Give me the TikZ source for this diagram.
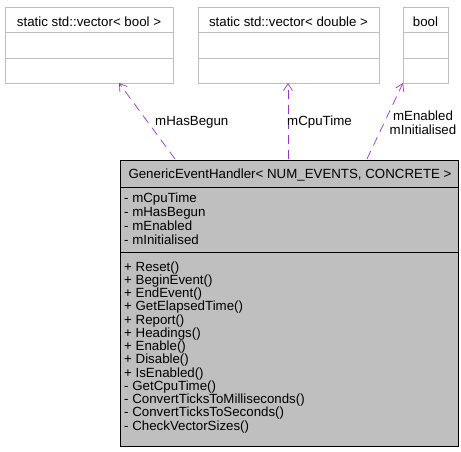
\documentclass[tikz,border=0pt]{standalone}
\usepackage{fontspec}
\setmainfont{Liberation Sans}
\usetikzlibrary{arrows.meta}
\definecolor{edgecol}{HTML}{9A32CD}
\definecolor{boxgray}{HTML}{BFBFBF}
\tikzset{
  topbox/.style={draw=boxgray, fill=white, line width=0.8pt, minimum height=76pt, inner sep=0pt, anchor=north west},
  mainbox/.style={draw=black, fill=boxgray, line width=0.9pt, inner sep=0pt, anchor=north west},
  txt/.style={font=\fontsize{13.3pt}{14pt}\selectfont, inner sep=0pt, anchor=base west},
  ctxt/.style={font=\fontsize{13.3pt}{14pt}\selectfont, inner sep=0pt, anchor=base},
  rel/.style={draw=edgecol, dash pattern=on 9pt off 6pt, line width=0.7pt, -{Straight Barb[length=7pt,width=9pt]}},
  lbl/.style={font=\fontsize{13.3pt}{14pt}\selectfont, inner sep=0pt, align=center}
}
\begin{document}
\begin{tikzpicture}[x=1pt,y=-1pt]
\useasboundingbox (0,0) rectangle (461,451);
% top boxes
\node[topbox, minimum width=168pt] (vb) at (5,7) {};
\draw[boxgray, line width=0.8pt] (5,32) -- (173,32) (5,58) -- (173,58);
\node[ctxt] (vbt) at (89,26) {static std::vector< bool >};
\node[topbox, minimum width=181pt] (vd) at (198,7) {};
\draw[boxgray, line width=0.8pt] (198,32) -- (379,32) (198,58) -- (379,58);
\node[ctxt] (vdt) at (288.5,26) {static std::vector< double >};
\node[topbox, minimum width=45pt] (bl) at (403,7) {};
\draw[boxgray, line width=0.8pt] (403,32) -- (448,32) (403,58) -- (448,58);
\node[ctxt] (blt) at (425.5,26) {bool};
% main box
\node[mainbox, minimum width=338pt, minimum height=286pt] (main) at (120,160) {};
\draw[black, line width=0.9pt] (120,187) -- (458,187) (120,252) -- (458,252);
\node[ctxt] (title) at (290,178) {GenericEventHandler< NUM\_EVENTS, CONCRETE >};
\foreach \t [count=\i from 0] in {- mCpuTime,- mHasBegun,- mEnabled,- mInitialised}
  \node[txt] (a\i) at (124,{202+\i*14}) {\t};
\foreach \t [count=\i from 0] in {+ Reset(),+ BeginEvent(),+ EndEvent(),+ GetElapsedTime(),+ Report(),+ Headings(),+ Enable(),+ Disable(),+ IsEnabled(),- GetCpuTime(),- ConvertTicksToMilliseconds(),- ConvertTicksToSeconds(),- CheckVectorSizes()}
  \node[txt] (m\i) at (124,{271+\i*13.25}) {\t};
% connectors
\coordinate (s1) at (175,159);
\coordinate (e1) at (119,83);
\coordinate (s2) at (288,159);
\coordinate (e2) at (288,83);
\coordinate (s3) at (367,159);
\coordinate (e3) at (403,83);
\draw[rel] (s1) -- (e1);
\draw[rel] (s2) -- (e2);
\draw[rel] (s3) -- (e3);
\node[lbl, anchor=west] (l1) at (155,122) {mHasBegun};
\node[lbl, anchor=west] (l2) at (287,122) {mCpuTime};
\node[lbl] (l3) at (423,123) {mEnabled\\mInitialised};
\end{tikzpicture}
\end{document}
